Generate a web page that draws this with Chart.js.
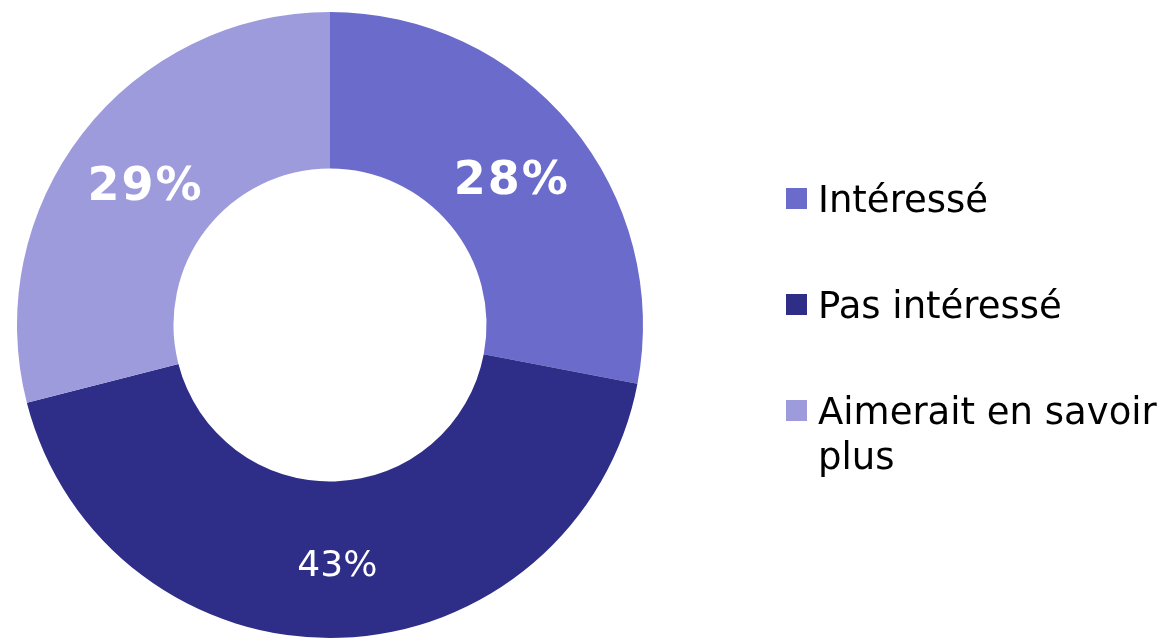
<!DOCTYPE html>
<html>
<head>
<meta charset="utf-8">
<script src="https://cdn.jsdelivr.net/npm/chart.js@4"></script>
<style>
    html, body {margin: 0; padding: 0; background: #fff; overflow: hidden;}
    #wrap {width: 1164px; height: 640px; position: relative;}
</style>
</head>
<body>
<div id="wrap"><canvas id="myChart" width="1164" height="640"></canvas></div>
<script>
const labels = ['Intéressé', 'Pas intéressé', 'Aimerait en savoir plus'];
const values = [28, 43, 29];
const valueLabels = ['28%', '43%', '29%'];
const colors = ['#6b6bcc', '#2e2e88', '#9d9bdc'];
const boldLabel = [true, false, true];

// draws the % text on each slice, at the arc's own centre point
const sliceLabels = {
    id: 'sliceLabels',
    afterDatasetsDraw(chart) {
        const c = chart.ctx, meta = chart.getDatasetMeta(0);
        c.save();
        c.fillStyle = '#fff';
        c.textAlign = 'center';
        c.textBaseline = 'middle';
        meta.data.forEach(function (arc, i) {
            const p = arc.tooltipPosition();
            if (boldLabel[i]) {
                c.font = 'bold 46px "DejaVu Sans"';
                c.letterSpacing = '2px';
            } else {
                c.font = '36px "DejaVu Sans"';
                c.letterSpacing = '0px';
            }
            c.fillText(valueLabels[i], p.x + (boldLabel[i] ? 1 : 0), p.y + 7);
        });
        c.restore();
    }
};

// legend on the right, with word wrap for long labels
const sideLegend = {
    id: 'sideLegend',
    afterDraw(chart) {
        const c = chart.ctx, x0 = 786, y0 = 188, step = 106, maxW = 1164 - 818 - 4;
        c.save();
        c.font = '37px "DejaVu Sans"';
        c.textBaseline = 'alphabetic';
        c.textAlign = 'left';
        chart.data.labels.forEach(function (lbl, i) {
            const y = y0 + i * step;
            c.fillStyle = chart.data.datasets[0].backgroundColor[i];
            c.fillRect(x0, y, 21, 21);
            c.fillStyle = '#000';
            let lines = [], cur = '';
            lbl.split(' ').forEach(function (w) {
                const t = cur ? cur + ' ' + w : w;
                if (cur && c.measureText(t).width > maxW) {
                    lines.push(cur);
                    cur = w;
                } else cur = t;
            });
            lines.push(cur);
            lines.forEach(function (ln, k) {
                c.fillText(ln, 818, y + 24 + k * 45);
            });
        });
        c.restore();
    }
};

const myChart = new Chart(document.getElementById('myChart'), {
    type: 'doughnut',
    data: {
        labels: labels,
        datasets: [{data: values, backgroundColor: colors, borderWidth: 0}]
    },
    options: {
        responsive: false,
        animation: false,
        cutout: '50%',
        layout: {padding: {left: 17, right: 521, top: 12, bottom: 2}},
        plugins: {legend: {display: false}, tooltip: {enabled: false}}
    },
    plugins: [sliceLabels, sideLegend]
});
</script>
</body>
</html>
